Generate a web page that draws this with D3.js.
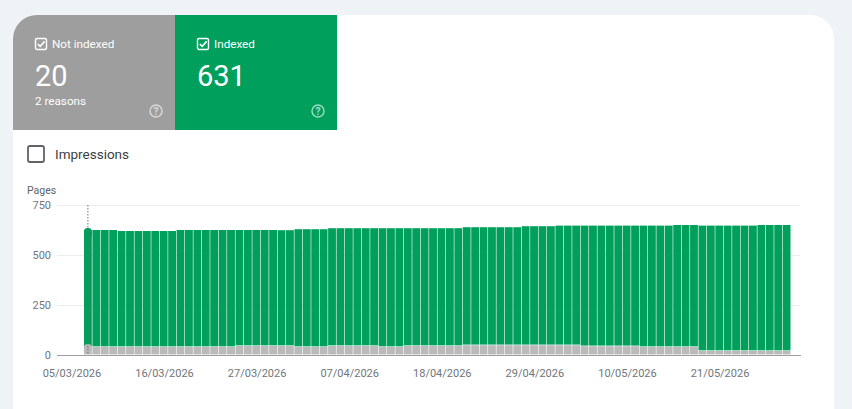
<!DOCTYPE html>
<html>
<head>
<meta charset="utf-8">
<script src="https://cdnjs.cloudflare.com/ajax/libs/d3/7.8.5/d3.min.js"></script>
<style>
  html, body { margin: 0; padding: 0; background: #eff3f8; overflow: hidden; }
  svg { display: block; font-family: Roboto, sans-serif; }
</style>
</head>
<body>
<svg id="chart" width="852" height="409"></svg>
<script>
// Index of each day, counted from 05/03/2026
const days = d3.range(84);
const tickDays = [0, 11, 22, 33, 44, 55, 66, 77];
const tickLabels = ['05/03/2026', '16/03/2026', '27/03/2026', '07/04/2026',
  '18/04/2026', '29/04/2026', '10/05/2026', '21/05/2026'];
const yTicks = [0, 250, 500, 750];

const notIndexed = [
  40, 40, 40, 40, 40, 40, 40, 40, 40, 40, 40, 40, 40, 40, 40, 40, 40, 40,
  45, 45, 45, 45, 45, 45, 45,
  40, 40, 40, 40,
  45, 45, 45, 45, 45, 45,
  40, 40, 40,
  45, 45, 45, 45, 45, 45, 45,
  49, 49, 49, 49, 49, 49, 49, 49, 49, 49, 49, 49, 49, 49,
  44, 44, 44, 44, 44, 44, 44,
  40, 40, 40, 40, 40, 40, 40,
  20, 20, 20, 20, 20, 20, 20, 20, 20, 20, 20
];
const totals = [
  625, 625, 625, 625,
  620, 620, 620, 620, 620, 620, 620,
  625, 625, 625, 625, 625, 625, 625, 625, 625, 625, 625, 625, 624, 624,
  629, 629, 629, 629,
  634, 634, 634, 634, 634, 634, 634, 634, 634, 634, 634, 634, 634, 634, 634, 634,
  639, 639, 639, 639, 639, 639, 639,
  644, 644, 644, 644,
  647, 647, 647, 647, 647, 647, 647, 647, 647, 647, 647, 647, 647, 647,
  650, 650, 650,
  647, 647, 647, 647, 647, 647, 647,
  650, 650, 650, 650
];
const indexed = totals.map((t, i) => t - notIndexed[i]);

const GREY = '#9e9e9e', GREEN = '#00a05c', BAR_GREY = '#bababa';
const svg = d3.select('#chart');

// ── Card and tiles ──────────────────────────────────────────────────────────

svg.append('path').attr('fill', '#fff')
  .attr('d', 'M13 409V39a24 24 0 0 1 24-24H810a24 24 0 0 1 24 24V409Z');
svg.append('path').attr('fill', GREY)
  .attr('d', 'M13 130V39a24 24 0 0 1 24-24H175V130Z');
svg.append('rect').attr('x', 175).attr('y', 15).attr('width', 162).attr('height', 115).attr('fill', GREEN);

function tile(x, label, value, sub) {
  const g = svg.append('g').attr('transform', `translate(${x},0)`);
  g.append('rect').attr('x', 0.5).attr('y', 38.5).attr('width', 11).attr('height', 11).attr('rx', 1.5)
    .attr('fill', 'none').attr('stroke', '#fff').attr('stroke-width', 1.4);
  g.append('path').attr('d', 'M2.8 44l2.4 2.4l4.4-5').attr('fill', 'none').attr('stroke', '#fff').attr('stroke-width', 1.6);
  g.append('text').attr('x', 17).attr('y', 48).attr('fill', '#fff').attr('font-size', 11.7).text(label);
  g.append('text').attr('x', 0).attr('y', 86).attr('fill', '#fff').attr('font-size', 29).text(value);
  if (sub) g.append('text').attr('x', 0).attr('y', 105).attr('fill', '#fff').attr('font-size', 11.7).text(sub);
  const help = g.append('g').attr('transform', 'translate(121,111)').attr('opacity', 0.6);
  help.append('circle').attr('r', 6).attr('fill', 'none').attr('stroke', '#fff').attr('stroke-width', 1.5);
  help.append('text').attr('y', 3.5).attr('text-anchor', 'middle').attr('fill', '#fff')
    .attr('font-size', 10).attr('font-weight', 700).text('?');
}
tile(35, 'Not indexed', '20', '2 reasons');
tile(197, 'Indexed', '631', null);

svg.append('rect').attr('x', 28).attr('y', 146).attr('width', 16).attr('height', 16).attr('rx', 2)
  .attr('fill', 'none').attr('stroke', '#5f6368').attr('stroke-width', 1.8);
svg.append('text').attr('x', 55).attr('y', 159).attr('fill', '#3c4043').attr('font-size', 13.5).text('Impressions');

// ── Chart ───────────────────────────────────────────────────────────────────

const x = d3.scaleBand().domain(days).range([84, 790.5]).paddingInner(0.07).paddingOuter(0);
const y = d3.scaleLinear().domain([0, 750]).range([355, 205]);

svg.append('text').attr('x', 27).attr('y', 194).attr('fill', '#5f6368').attr('font-size', 10.5).text('Pages');

const yAxis = svg.append('g').attr('transform', 'translate(57,0)')
  .call(d3.axisLeft(y).tickValues(yTicks).tickSize(-743).tickPadding(6));
yAxis.select('.domain').remove();
yAxis.selectAll('line').attr('stroke', '#ededed');
yAxis.selectAll('text').attr('fill', '#70757a').attr('font-size', 11).attr('font-family', 'Roboto, sans-serif');

const stack = d3.stack().keys(['notIndexed', 'indexed'])(
  days.map(d => ({ notIndexed: notIndexed[d], indexed: indexed[d] })));
const colors = { notIndexed: BAR_GREY, indexed: GREEN };

svg.append('g').selectAll('g').data(stack).join('g')
  .attr('fill', s => colors[s.key])
  .selectAll('rect').data(s => s).join('rect')
  .attr('x', (d, i) => x(i))
  .attr('width', x.bandwidth())
  .attr('y', d => y(d[1]))
  .attr('height', d => Math.max(0, y(d[0]) - y(d[1]) - 0.6));

// Baseline and date labels
svg.append('line').attr('x1', 57).attr('x2', 801).attr('y1', y(0) + 0.5).attr('y2', y(0) + 0.5)
  .attr('stroke', '#9e9e9e');
svg.append('g').selectAll('text').data(tickDays).join('text')
  .attr('x', (d, i) => x(d) + x.bandwidth() / 2 - 16)
  .attr('y', 377)
  .attr('text-anchor', 'middle')
  .attr('fill', '#70757a')
  .attr('font-size', 11)
  .text((d, i) => tickLabels[i]);

// Hover marker on the first day
svg.append('rect')
  .attr('x', x(0)).attr('width', x.bandwidth())
  .attr('y', y(totals[0]) - 2).attr('height', 10).attr('rx', 3.5).attr('fill', GREEN);
svg.append('rect')
  .attr('x', x(0)).attr('width', x.bandwidth())
  .attr('y', y(notIndexed[0]) - 3).attr('height', 8).attr('rx', 3.5).attr('fill', BAR_GREY);
svg.append('line')
  .attr('x1', x(0) + x.bandwidth() / 2).attr('x2', x(0) + x.bandwidth() / 2)
  .attr('y1', y(750)).attr('y2', y(0))
  .attr('stroke', '#5f6368').attr('stroke-width', 0.9).attr('stroke-dasharray', '1.5,1.5');
</script>
</body>
</html>
